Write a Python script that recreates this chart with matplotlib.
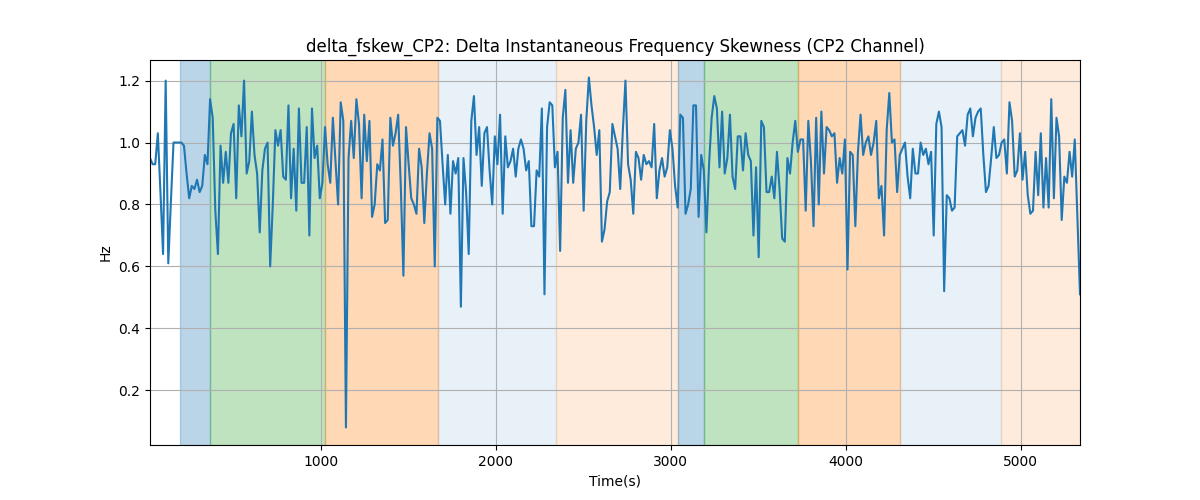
import matplotlib
matplotlib.use("Agg")
import matplotlib.pyplot as plt
import numpy as np

#------------------------------------------------------------------------------

t_start = 25
t_end = 5340

values = [
    # 0 - ~1000
    0.95, 0.93, 0.93, 1.03, 0.84, 0.64, 1.20, 0.61, 0.81, 1.00,
    1.00, 1.00, 1.00, 0.99, 0.90, 0.82, 0.86, 0.85, 0.88, 0.84,
    0.86, 0.96, 0.93, 1.14, 1.08, 0.78, 0.64, 0.99, 0.87, 0.97,
    0.87, 1.03, 1.06, 0.82, 1.12, 1.02, 1.20, 0.90, 0.94, 1.10,
    0.96, 0.90, 0.71, 0.91, 0.98, 1.00, 0.60, 0.80, 1.04, 0.99,
    1.04, 0.89, 0.88, 1.12, 0.82, 0.98, 0.78, 1.11, 0.87, 0.87,
    1.05, 0.70, 1.11, 0.95, 0.99, 0.82, 0.87, 1.05, 0.93, 0.87,
    1.08, 0.94, 0.80,
    # ~1000 - ~2100
    1.13, 1.07, 0.08, 0.95, 1.07, 0.95, 1.14, 1.06, 0.82, 1.09,
    0.94, 1.07, 0.76, 0.80, 0.93, 0.91, 1.01, 0.74, 0.75, 1.08,
    0.99, 1.03, 1.09, 0.86, 0.57, 1.05, 0.93, 0.82, 0.80, 0.77,
    0.98, 0.92, 0.74, 0.90, 1.03, 0.98, 0.60, 1.08, 1.07, 0.93,
    0.80, 0.96, 0.77, 0.94, 0.90, 0.95, 0.47, 0.95, 0.84, 0.64,
    1.07, 1.15, 0.96, 1.05, 0.86, 1.03, 1.05, 0.91, 0.80, 1.02,
    0.93, 1.09, 0.77, 1.02, 0.92, 0.94, 0.98, 0.89, 0.98, 1.01,
    0.98, 0.91, 0.94,
    # ~2100 - ~3200
    0.73, 0.73, 0.91, 0.89, 1.11, 0.51, 1.05, 1.13, 1.12, 0.92,
    0.97, 0.65, 1.08, 1.17, 0.87, 1.04, 0.87, 0.98, 1.00, 1.09,
    0.78, 1.07, 1.21, 1.12, 1.05, 0.96, 1.04, 0.68, 0.72, 0.81,
    0.84, 1.06, 1.02, 0.98, 0.85, 1.04, 1.20, 0.93, 0.88, 0.77,
    0.97, 0.95, 0.88, 0.96, 0.93, 0.94, 0.92, 1.06, 0.82, 0.91,
    0.95, 0.89, 0.92, 1.04, 0.98, 0.86, 0.79, 1.09, 1.08, 0.77,
    0.80, 0.85, 1.12, 1.12, 0.76, 0.96, 0.91, 0.71, 0.93, 1.08,
    # ~3200 - ~4300
    1.15, 1.11, 0.92, 1.10, 0.90, 0.95, 1.09, 0.89, 0.85, 1.02,
    1.02, 0.91, 1.03, 0.96, 0.94, 0.70, 0.92, 0.63, 1.07, 1.05,
    0.84, 0.84, 0.89, 0.82, 0.97, 0.85, 0.69, 0.68, 0.95, 0.90,
    1.00, 1.07, 0.97, 1.01, 1.01, 0.78, 1.07, 0.94, 0.73, 1.08,
    0.80, 1.10, 0.90, 1.05, 1.04, 1.02, 1.03, 0.87, 0.95, 0.90,
    1.01, 0.59, 0.97, 0.96, 0.73, 0.97, 1.09, 0.96, 1.00, 1.02,
    0.96, 1.00, 1.07, 0.82, 0.86, 0.70, 1.04, 1.16, 1.00, 1.01,
    0.84, 0.96, 0.98,
    # ~4300 - end
    1.00, 0.89, 0.82, 0.98, 0.90, 0.90, 1.00, 0.96, 0.98, 0.93,
    0.97, 0.70, 1.06, 1.10, 1.05, 0.52, 0.83, 0.82, 0.78, 0.79,
    1.02, 1.03, 1.04, 0.99, 1.09, 1.11, 1.02, 1.08, 1.10, 1.11,
    0.96, 0.84, 0.86, 0.95, 1.05, 0.95, 0.96, 1.00, 1.01, 0.90,
    1.13, 1.07, 0.89, 0.91, 1.03, 0.88, 0.97, 0.83, 0.77, 0.78,
    0.97, 0.83, 1.03, 0.79, 0.95, 0.79, 1.14, 0.82, 1.08, 1.02,
    0.75, 0.89, 0.87, 0.97, 0.89, 1.01, 0.76, 0.51,
]

# (start, end, colour, alpha)
spans = [
    (194, 366, 'tab:blue', 0.3),
    (366, 1023, 'tab:green', 0.3),
    (1023, 1669, 'tab:orange', 0.3),
    (1669, 2343, 'tab:blue', 0.1),
    (2343, 3040, 'tab:orange', 0.15),
    (3040, 3189, 'tab:blue', 0.3),
    (3189, 3731, 'tab:green', 0.3),
    (3731, 4309, 'tab:orange', 0.3),
    (4309, 4891, 'tab:blue', 0.1),
    (4891, 5340, 'tab:orange', 0.15),
]

#------------------------------------------------------------------------------

time = np.linspace(t_start, t_end, len(values))

fig, ax = plt.subplots(figsize=(12, 5), dpi=100)

for s, e, c, a in spans:
    ax.axvspan(s, e, color=c, alpha=a)

ax.plot(time, values, color='tab:blue', lw=1.5)

ax.set_xlim(time[0], time[-1])
ax.grid(True)
ax.set_title('delta_fskew_CP2: Delta Instantaneous Frequency Skewness (CP2 Channel)')
ax.set_xlabel('Time(s)')
ax.set_ylabel('Hz')

fig.savefig('out.png')
